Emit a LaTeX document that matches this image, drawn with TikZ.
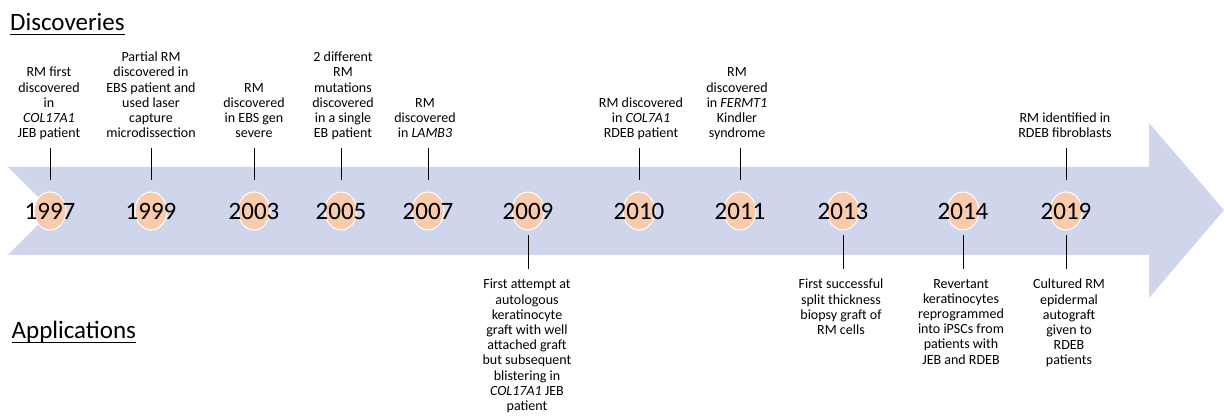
\documentclass[tikz,border=0pt]{standalone}
\usepackage{fontspec}
\setmainfont{Carlito}
\usepackage{tikz}
\usetikzlibrary{positioning,shapes.geometric}
\definecolor{bandblue}{HTML}{CFD5EA}
\definecolor{peach}{HTML}{F8CBAD}
\newlength{\hdwidth}
\newcommand{\hdline}[1]{\settowidth{\hdwidth}{#1}#1\llap{\rule[-4.3pt]{\hdwidth}{1.4pt}}}
\tikzset{
  every node/.append style={font=\fontsize{14}{15.2}\selectfont},
}

\begin{document}
\begin{tikzpicture}[x=1pt, y=-1pt,
  dot/.style={ellipse, draw=white, line width=1pt, fill=peach, minimum width=32pt, minimum height=38pt, inner sep=0pt},
  year/.style={font=\fontsize{25}{30}\selectfont, inner sep=0pt},
  head/.style={font=\fontsize{25}{30}\selectfont, anchor=base west, inner sep=0pt},
  disc/.style={align=center, anchor=south, inner sep=0pt, text depth=4pt},
  appl/.style={align=center, anchor=north, inner sep=0pt},
  tick/.style={line width=1pt, draw=black},
  uptick/.style={tick, shorten <=6pt, shorten >=11pt},
  downtick/.style={tick, shorten <=5pt, shorten >=10pt}
]
\useasboundingbox (0,0) rectangle (1224,419);

% Headings
\node[head] (dischead) at (10,31) {\hdline{Discoveries}};
\node[head] (applhead) at (11.5,339) {\hdline{Applications}};

% Time band (notched arrow)
\fill[bandblue] (8,167) -- (1149,167) -- (1149,123) -- (1224,210) -- (1149,298)
  -- (1149,255) -- (8,255) -- (52,211) -- cycle;

% Years on the band
\node[dot] (c97) at (50,211) {};   \node[year] (y97) at (c97) {1997};
\node[dot] (c99) at (151,211) {};  \node[year] (y99) at (c99) {1999};
\node[dot] (c03) at (254,211) {};  \node[year] (y03) at (c03) {2003};
\node[dot] (c05) at (341,211) {};  \node[year] (y05) at (c05) {2005};
\node[dot] (c07) at (428,211) {};  \node[year] (y07) at (c07) {2007};
\node[dot] (c09) at (528,211) {};  \node[year] (y09) at (c09) {2009};
\node[dot] (c10) at (639,211) {};  \node[year] (y10) at (c10) {2010};
\node[dot] (c11) at (740,211) {};  \node[year] (y11) at (c11) {2011};
\node[dot] (c13) at (843,211) {};  \node[year] (y13) at (c13) {2013};
\node[dot] (c14) at (963,211) {};  \node[year] (y14) at (c14) {2014};
\node[dot] (c19) at (1066,211) {}; \node[year] (y19) at (c19) {2019};

% Discoveries (above the band)
\node[disc] (d97) at (49,142) {RM first\\discovered\\in\\\textit{COL17A1}\\JEB patient};
\node[disc] (d99) at (151,142) {Partial RM\\discovered in\\EBS patient and\\used laser\\capture\\microdissection};
\node[disc] (d03) at (254,142) {RM\\discovered\\in EBS gen\\severe};
\node[disc] (d05) at (343,142) {2 different\\RM\\mutations\\discovered\\in a single\\EB patient};
\node[disc] (d07) at (425,142) {RM\\discovered\\in \textit{LAMB3}};
\node[disc] (d10) at (641,142) {RM discovered\\in \textit{COL7A1}\\RDEB patient};
\node[disc] (d11) at (737,142) {RM\\discovered\\in \textit{FERMT1}\\Kindler\\syndrome};
\node[disc] (d19) at (1065,142) {RM identified in\\RDEB fibroblasts};

% Applications (below the band)
\node[appl] (a09) at (527,279) {First attempt at\\autologous\\keratinocyte\\graft with well\\attached graft\\but subsequent\\blistering in\\\textit{COL17A1} JEB\\patient};
\node[appl] (a13) at (841,279) {First successful\\split thickness\\biopsy graft of\\RM cells};
\node[appl] (a14) at (961,279) {Revertant\\keratinocytes\\reprogrammed\\into iPSCs from\\patients with\\JEB and RDEB};
\node[appl] (a19) at (1069,279) {Cultured RM\\epidermal\\autograft\\given to\\RDEB\\patients};

% Ticks
\draw[uptick] (d97.south -| c97) -- (c97.north);
\draw[uptick] (d99.south -| c99) -- (c99.north);
\draw[uptick] (d03.south -| c03) -- (c03.north);
\draw[uptick] (d05.south -| c05) -- (c05.north);
\draw[uptick] (d07.south -| c07) -- (c07.north);
\draw[uptick] (d10.south -| c10) -- (c10.north);
\draw[uptick] (d11.south -| c11) -- (c11.north);
\draw[uptick] (d19.south -| c19) -- (c19.north);
\draw[downtick] (c09.south) -- (a09.north -| c09);
\draw[downtick] (c13.south) -- (a13.north -| c13);
\draw[downtick] (c14.south) -- (a14.north -| c14);
\draw[downtick] (c19.south) -- (a19.north -| c19);

\end{tikzpicture}
\end{document}
